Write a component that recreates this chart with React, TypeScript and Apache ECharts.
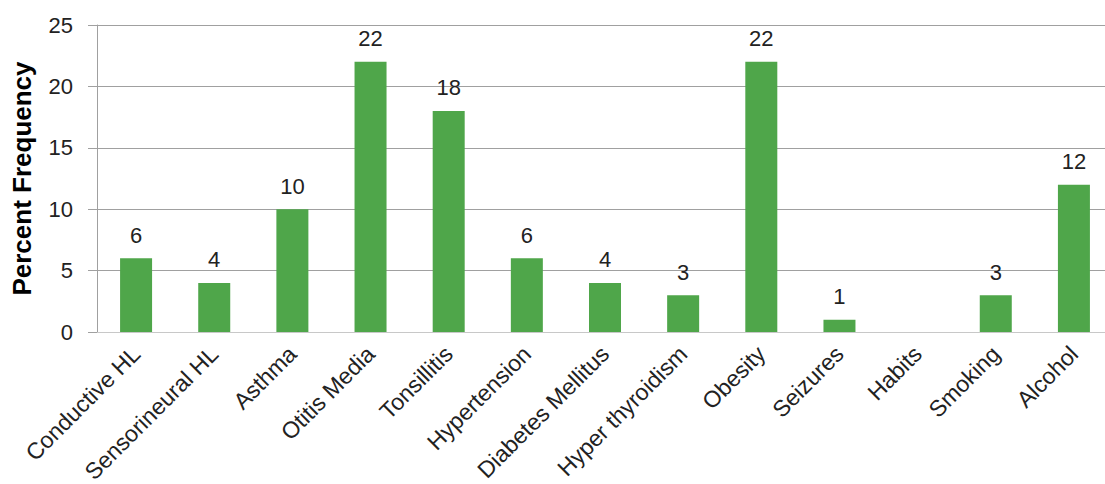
import React, { useEffect, useRef } from "react";
import * as echarts from "echarts";

const categories = [
  "Conductive HL",
  "Sensorineural HL",
  "Asthma",
  "Otitis Media",
  "Tonsillitis",
  "Hypertension",
  "Diabetes Mellitus",
  "Hyper thyroidism",
  "Obesity",
  "Seizures",
  "Habits",
  "Smoking",
  "Alcohol",
];
const values: (number | null)[] = [6, 4, 10, 22, 18, 6, 4, 3, 22, 1, null, 3, 12];
const yTicks = [0, 5, 10, 15, 20, 25];

const FONT = "'Liberation Sans', Arial, sans-serif";

export default function App() {
  const ref = useRef<HTMLDivElement>(null);
  useEffect(() => {
    const chart = echarts.init(ref.current!, null, { renderer: "svg" });
    chart.setOption({
      animation: false,
      grid: {
        left: 97,
        right: -8,
        top: 25,
        bottom: 152,
        containLabel: false,
        outerBoundsMode: "none",
      },
      xAxis: {
        type: "category",
        data: categories,
        axisLine: { show: true, lineStyle: { color: "#c8c8c8", width: 1 } },
        axisTick: { show: false },
        axisLabel: {
          rotate: 45,
          interval: 0,
          fontSize: 23,
          color: "#222",
          fontFamily: FONT,
          margin: 18,
        },
      },
      yAxis: {
        type: "value",
        min: yTicks[0],
        max: yTicks[yTicks.length - 1],
        interval: 5,
        name: "Percent Frequency",
        nameLocation: "middle",
        nameGap: 62,
        nameTextStyle: { fontSize: 26, fontWeight: "bold", color: "#000", fontFamily: FONT },
        axisLine: { show: true, lineStyle: { color: "#a0a0a0", width: 1 } },
        axisTick: { show: true, length: 9, lineStyle: { color: "#a0a0a0" } },
        axisLabel: { fontSize: 22, color: "#222", fontFamily: FONT, margin: 24 },
        splitLine: { show: true, lineStyle: { color: "#a0a0a0", width: 1 } },
      },
      series: [
        {
          type: "bar",
          data: values,
          barWidth: 32,
          itemStyle: { color: "#4fa64a" },
          label: {
            show: true,
            position: "top",
            distance: 12,
            fontSize: 22,
            color: "#222",
            fontFamily: FONT,
          },
        },
      ],
    });
    return () => chart.dispose();
  }, []);
  return (
    <div
      ref={ref}
      style={{ position: "fixed", left: 0, top: 0, width: 1105, height: 484, background: "#fff" }}
    />
  );
}
